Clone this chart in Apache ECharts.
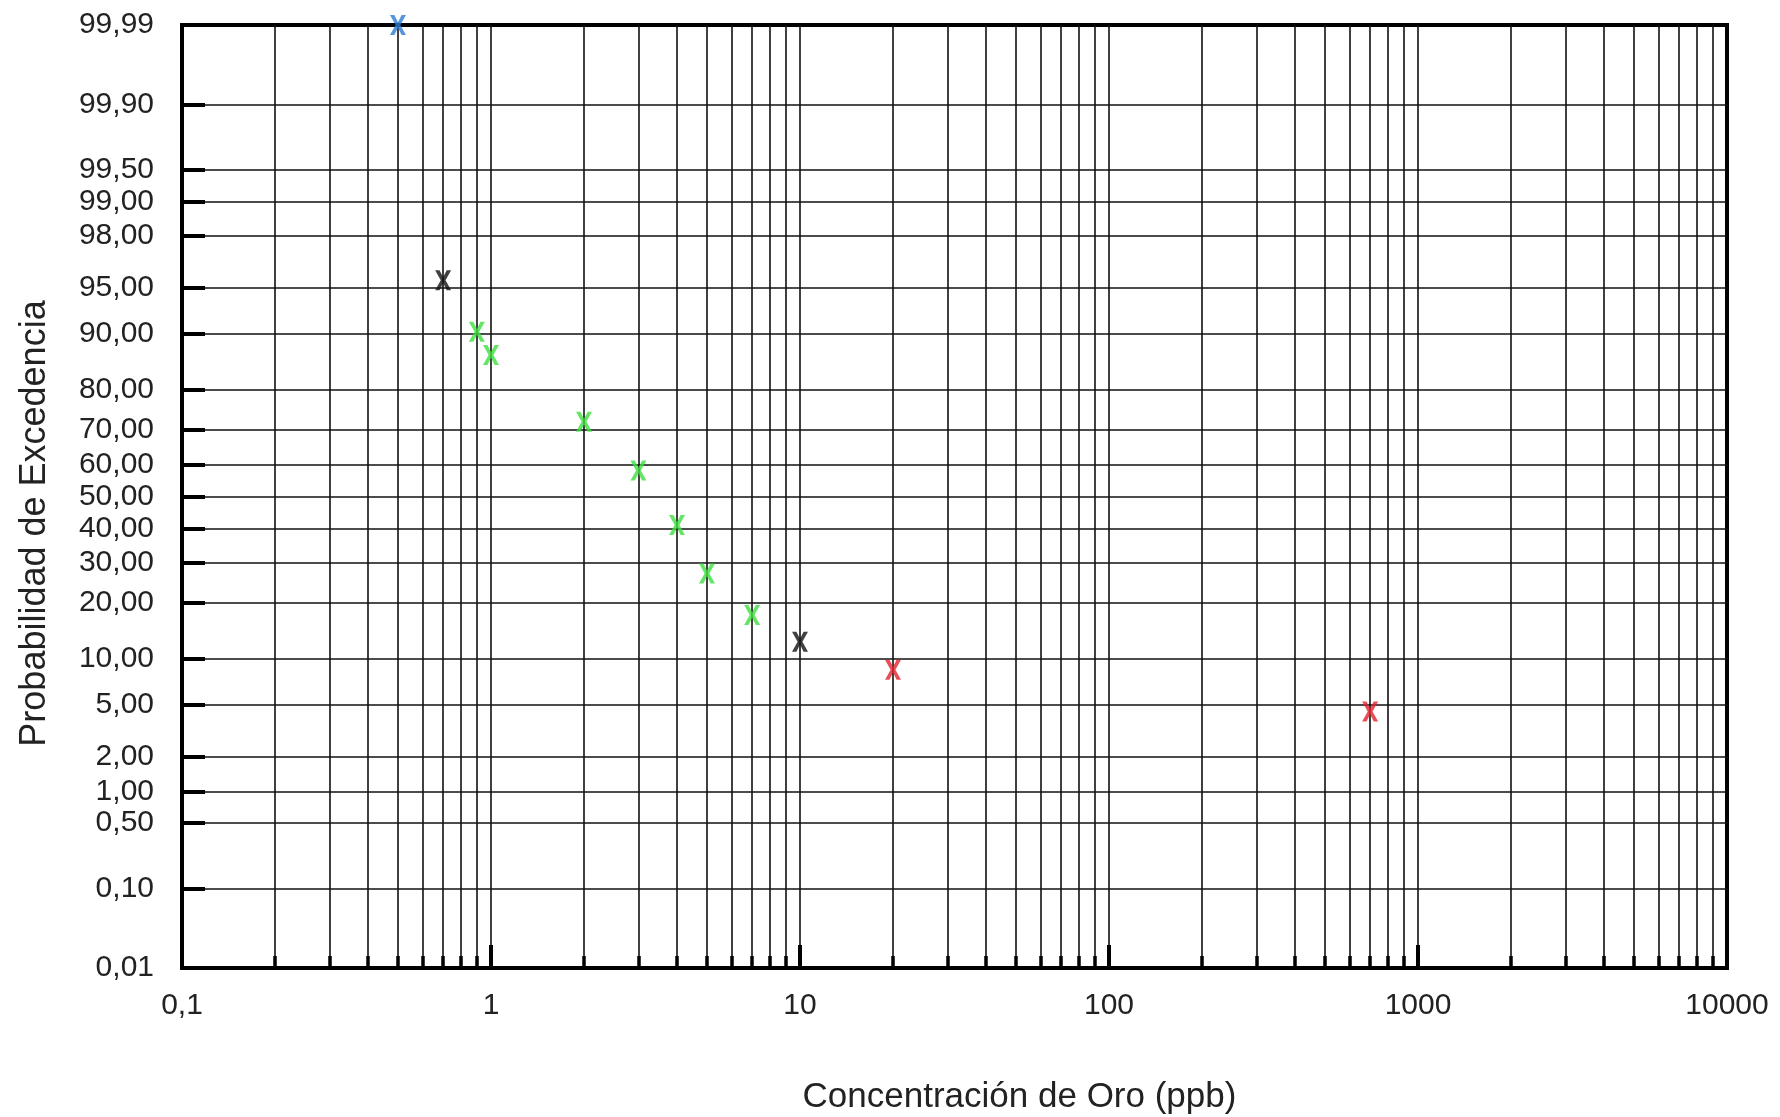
<!DOCTYPE html>
<html>
<head>
<meta charset="utf-8">
<title>Probabilidad de Excedencia</title>
<script src="https://cdn.jsdelivr.net/npm/echarts@6/dist/echarts.min.js"></script>
<style>
  html, body { margin: 0; padding: 0; background: #fff; }
  #chart { width: 1780px; height: 1117px; }
</style>
</head>
<body>
<div id="chart"></div>
<script>
// concentración (ppb) y probabilidad de excedencia (%) por grupo de color
const blueX = [0.5];
const blueP = [99.99];
const blackX = [0.7, 10];
const blackP = [95.6, 12.6];
const greenX = [0.9, 1, 2, 3, 4, 5, 7];
const greenP = [90.3, 86.8, 72.2, 58.1, 41.1, 27.2, 17.5];
const redX = [20, 700];
const redP = [8.6, 4.5];

// ejes
const xMajor = [0.1, 1, 10, 100, 1000, 10000];
const xMajorLabels = ['0,1', '1', '10', '100', '1000', '10000'];
const xMinorMult = [2, 3, 4, 5, 6, 7, 8, 9];
const yTicks = [0.01, 0.1, 0.5, 1, 2, 5, 10, 20, 30, 40, 50, 60, 70, 80, 90, 95, 98, 99, 99.5, 99.9, 99.99];
const yTickLabels = ['0,01', '0,10', '0,50', '1,00', '2,00', '5,00', '10,00', '20,00', '30,00', '40,00',
  '50,00', '60,00', '70,00', '80,00', '90,00', '95,00', '98,00', '99,00', '99,50', '99,90', '99,99'];

// inversa de la normal (Acklam) para la escala de probabilidad
function probit(p) {
  const a = [-3.969683028665376e+01, 2.209460984245205e+02, -2.759285104469687e+02, 1.383577518672690e+02, -3.066479806614716e+01, 2.506628277459239e+00];
  const b = [-5.447609879822406e+01, 1.615858368580409e+02, -1.556989798598866e+02, 6.680131188771972e+01, -1.328068155288572e+01];
  const c = [-7.784894002430293e-03, -3.223964580411365e-01, -2.400758277161838e+00, -2.549732539343734e+00, 4.374664141464968e+00, 2.938163982698783e+00];
  const d = [7.784695709041462e-03, 3.224671290700398e-01, 2.445134137142996e+00, 3.754408661907416e+00];
  const pl = 0.02425;
  let q, r;
  if (p < pl) {
    q = Math.sqrt(-2 * Math.log(p));
    return (((((c[0] * q + c[1]) * q + c[2]) * q + c[3]) * q + c[4]) * q + c[5]) / ((((d[0] * q + d[1]) * q + d[2]) * q + d[3]) * q + 1);
  }
  if (p <= 1 - pl) {
    q = p - 0.5; r = q * q;
    return (((((a[0] * r + a[1]) * r + a[2]) * r + a[3]) * r + a[4]) * r + a[5]) * q / (((((b[0] * r + b[1]) * r + b[2]) * r + b[3]) * r + b[4]) * r + 1);
  }
  q = Math.sqrt(-2 * Math.log(1 - p));
  return -(((((c[0] * q + c[1]) * q + c[2]) * q + c[3]) * q + c[4]) * q + c[5]) / ((((d[0] * q + d[1]) * q + d[2]) * q + d[3]) * q + 1);
}
const py = (pct) => probit(pct / 100);
const lx = (v) => Math.log10(v);

const yVals = yTicks.map(py);
const xMajorVals = xMajor.map(lx);
let xMinorVals = [];
for (let i = 0; i < xMajor.length - 1; i++) {
  xMinorMult.forEach(m => xMinorVals.push(lx(xMajor[i] * m)));
}
const xGridVals = xMinorVals.concat(xMajorVals.slice(1, -1));

function toData(xs, ps) {
  return xs.map((x, i) => [lx(x), py(ps[i])]);
}

const FONT = '"Liberation Sans", Arial, sans-serif';
const xMark = 'path://M0,0L3.3,0L6,5L8.7,0L12,0L7.8,7L12,14L8.7,14L6,9L3.3,14L0,14L4.2,7Z';

function scatter(name, xs, ps, color) {
  return {
    name: name,
    type: 'scatter',
    xAxisIndex: 1,
    data: toData(xs, ps),
    symbol: xMark,
    symbolSize: [16, 20],
    clip: false,
    itemStyle: { color: color },
    z: 5
  };
}

const yMin = py(0.01), yMax = py(99.99);

const chart = echarts.init(document.getElementById('chart'));
chart.setOption({
  animation: false,
  backgroundColor: '#fff',
  grid: {
    left: 182, right: 53, top: 25, bottom: 149,
    outerBoundsMode: 'none',
    show: true, borderColor: '#000', borderWidth: 4, backgroundColor: 'transparent',
    containLabel: false
  },
  xAxis: [
    {
      // rejilla vertical y marcas menores
      type: 'value', min: -1, max: 4, position: 'bottom',
      axisLine: { show: false, onZero: false },
      axisTick: { show: true, inside: true, length: 12, customValues: xGridVals, lineStyle: { color: '#000', width: 3.5 } },
      axisLabel: { show: false },
      splitLine: { show: true, lineStyle: { color: '#111', width: 1.6 } }
    },
    {
      type: 'value', min: -1, max: 4, position: 'bottom',
      name: 'Concentración de Oro (ppb)',
      nameLocation: 'middle',
      nameGap: 112,
      nameTextStyle: { fontFamily: FONT, fontSize: 35, color: '#222', padding: [0, 0, 0, 130] },
      axisLine: { show: false, onZero: false },
      axisTick: { show: true, inside: true, length: 23, customValues: xMajorVals.slice(1, -1), lineStyle: { color: '#000', width: 4 } },
      axisLabel: {
        customValues: xMajorVals,
        margin: 23,
        fontFamily: FONT, fontSize: 30, color: '#222',
        formatter: (v) => {
          let best = 0;
          xMajorVals.forEach((t, i) => { if (Math.abs(t - v) < Math.abs(xMajorVals[best] - v)) best = i; });
          return xMajorLabels[best];
        }
      },
      splitLine: { show: false }
    }
  ],
  yAxis: {
    type: 'value', min: yMin, max: yMax,
    name: 'Probabilidad de Excedencia',
    nameLocation: 'middle',
    nameGap: 129,
    nameTextStyle: { fontFamily: FONT, fontSize: 36, color: '#222', padding: [0, 54, 0, 0] },
    axisLine: { show: false, onZero: false },
    axisTick: { show: true, inside: true, length: 23, customValues: yVals.slice(1, -1), lineStyle: { color: '#000', width: 4 } },
    axisLabel: {
      customValues: yVals,
      margin: 28,
      fontFamily: FONT, fontSize: 30, color: '#222',
      formatter: (v) => {
        let best = 0;
        yVals.forEach((t, i) => { if (Math.abs(t - v) < Math.abs(yVals[best] - v)) best = i; });
        return yTickLabels[best];
      }
    },
    splitLine: { show: true, lineStyle: { color: '#111', width: 1.6 } }
  },
  series: [
    scatter('azul', blueX, blueP, '#2b7bd6'),
    scatter('negro', blackX, blackP, '#111111'),
    scatter('verde', greenX, greenP, '#3de03d'),
    scatter('rojo', redX, redP, '#e3212b')
  ]
});
</script>
</body>
</html>
